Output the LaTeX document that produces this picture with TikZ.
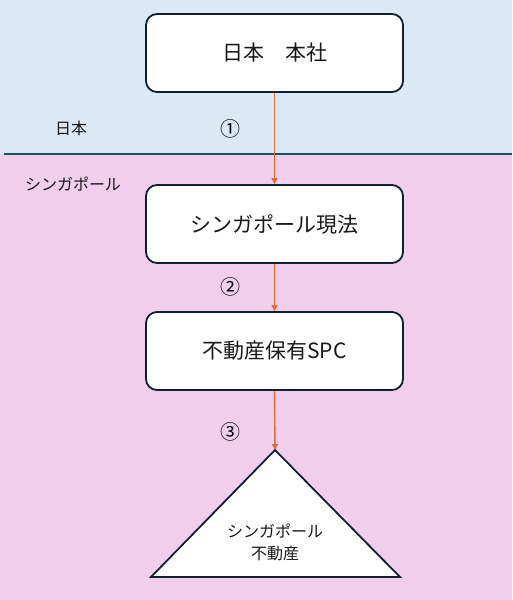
\documentclass[tikz,border=0pt]{standalone}
\usepackage{fontspec}
\setmainfont{Noto Sans CJK JP}
\usetikzlibrary{arrows.meta}
\definecolor{bgblue}{RGB}{219,232,245}
\definecolor{bgpink}{RGB}{240,206,236}
\definecolor{sepline}{RGB}{31,78,96}
\definecolor{boxline}{RGB}{16,32,48}
\definecolor{arr}{RGB}{222,106,54}
\tikzset{
  box/.style={draw=boxline, line width=1.8pt, fill=white, rounded corners=11pt,
    minimum width=257pt, minimum height=78pt, font=\fontsize{21}{25}\selectfont, text=black!90},
  lab/.style={font=\fontsize{16}{19}\selectfont, text=black!90},
  num/.style={font=\fontsize{20}{22}\selectfont, text=black},
  flow/.style={draw=arr, line width=1.4pt, -{Triangle[length=6pt,width=6pt]}}
}
\begin{document}
\begin{tikzpicture}[x=1pt,y=-1pt]
\useasboundingbox (0,0) rectangle (512,600);
\fill[bgblue] (0,0) rectangle (512,154);
\fill[bgpink] (0,154) rectangle (512,600);
\draw[sepline, line width=1.5pt] (4,154) -- (512,154);
\node[box] (hq) at (274.5,53) {日本　本社};
\node[box] (sg) at (274.5,224) {シンガポール現法};
\node[box] (spc) at (274.5,351) {不動産保有SPC};
\coordinate (apex) at (275,450);
\draw[boxline, line width=1.8pt, fill=white, line join=miter] (apex) -- (400,577) -- (151,577) -- cycle;
\node[lab, align=center, font=\fontsize{16}{22}\selectfont] (prop) at (275,542) {シンガポール\\不動産};
\node[lab] (jp) at (71,128) {日本};
\node[lab] (sgl) at (73,184) {シンガポール};
\node[num] (n1) at (230,129) {①};
\node[num] (n2) at (230,287) {②};
\node[num] (n3) at (230,432) {③};
\draw[flow] (hq.south) -- (sg.north);
\draw[flow] (sg.south) -- (spc.north);
\draw[flow] (spc.south) -- (apex);
\end{tikzpicture}
\end{document}
